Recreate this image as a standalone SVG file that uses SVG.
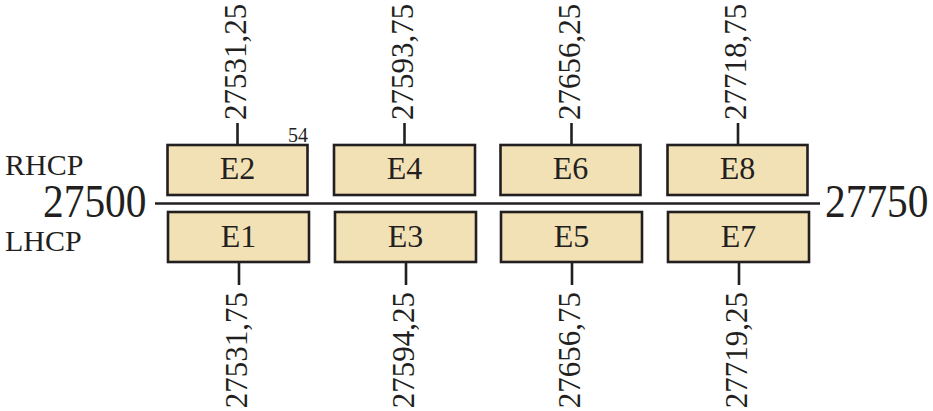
<svg xmlns="http://www.w3.org/2000/svg" width="933" height="411" viewBox="0 0 933 411">
<style>
.box{fill:#F3E1B6;stroke:#231F20;stroke-width:2.6}
.ln{stroke:#231F20;stroke-width:2.6;fill:none}
text{font-family:"Liberation Serif","Times New Roman",serif;fill:#231F20}
.lbl{font-size:32px;text-anchor:middle}
.tk{font-size:31px}
.big{font-size:46px}
.side{font-size:30px}
</style>
<rect width="933" height="411" fill="#fff"/>
<g id="connectors">
<line class="ln" x1="155" y1="203.5" x2="820" y2="203.5"/>
<line class="ln" x1="237.5" y1="123" x2="237.5" y2="145"/>
<line class="ln" x1="404.5" y1="123" x2="404.5" y2="145"/>
<line class="ln" x1="571.5" y1="123" x2="571.5" y2="145"/>
<line class="ln" x1="738" y1="123" x2="738" y2="145"/>
<line class="ln" x1="239" y1="262" x2="239" y2="285"/>
<line class="ln" x1="406" y1="262" x2="406" y2="285"/>
<line class="ln" x1="572" y1="262" x2="572" y2="285"/>
<line class="ln" x1="739" y1="262" x2="739" y2="285"/>
</g>
<g id="E2"><rect class="box" x="167.5" y="145" width="140" height="50"/><text class="lbl" x="237.5" y="179">E2</text></g>
<g id="E4"><rect class="box" x="334" y="145" width="141" height="50"/><text class="lbl" x="404.5" y="179">E4</text></g>
<g id="E6"><rect class="box" x="500.5" y="145" width="140" height="50"/><text class="lbl" x="570.5" y="179">E6</text></g>
<g id="E8"><rect class="box" x="667.5" y="145" width="140" height="50"/><text class="lbl" x="737.5" y="179">E8</text></g>
<g id="E1"><rect class="box" x="168" y="212" width="141" height="50"/><text class="lbl" x="238.5" y="247">E1</text></g>
<g id="E3"><rect class="box" x="335" y="212" width="141" height="50"/><text class="lbl" x="405.5" y="247">E3</text></g>
<g id="E5"><rect class="box" x="501" y="212" width="141" height="50"/><text class="lbl" x="571.5" y="247">E5</text></g>
<g id="E7"><rect class="box" x="668" y="212" width="141" height="50"/><text class="lbl" x="738.5" y="247">E7</text></g>
<g id="labels">
<text x="308" y="142" font-size="20" text-anchor="end">54</text>
<text class="side" x="5" y="175">RHCP</text>
<text class="side" x="5" y="251">LHCP</text>
<text class="big" transform="translate(43,217) scale(0.9,1)">27500</text>
<text class="big" transform="translate(825,217) scale(0.9,1)">27750</text>
<text class="tk" transform="translate(245.5,120) rotate(-90)">27531,25</text>
<text class="tk" transform="translate(412.5,120) rotate(-90)">27593,75</text>
<text class="tk" transform="translate(579.5,120) rotate(-90)">27656,25</text>
<text class="tk" transform="translate(746,120) rotate(-90)">27718,75</text>
<text class="tk" text-anchor="end" transform="translate(247,292) rotate(-90)">27531,75</text>
<text class="tk" text-anchor="end" transform="translate(414,292) rotate(-90)">27594,25</text>
<text class="tk" text-anchor="end" transform="translate(580,292) rotate(-90)">27656,75</text>
<text class="tk" text-anchor="end" transform="translate(747,292) rotate(-90)">27719,25</text>
</g>
</svg>
